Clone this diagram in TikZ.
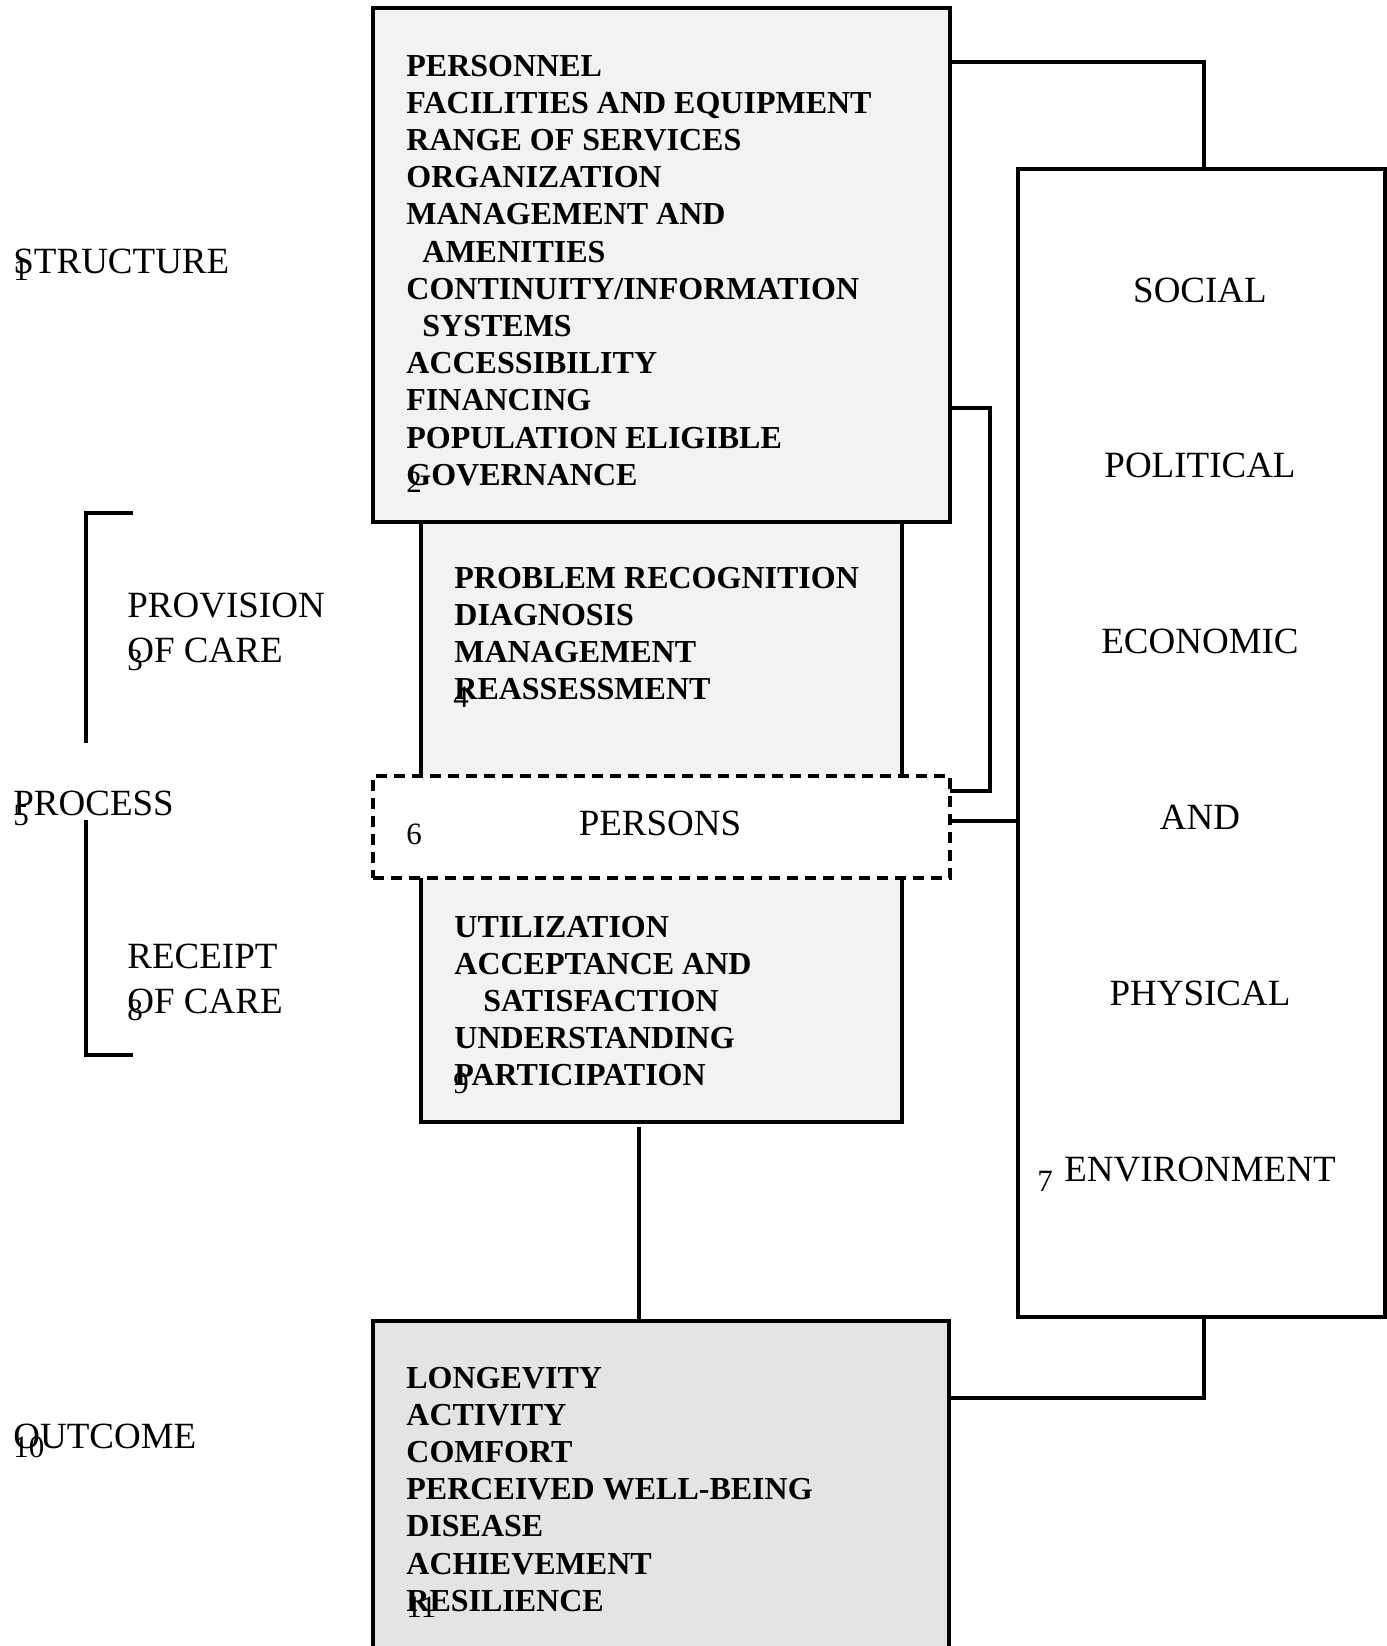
\documentclass[tikz,border=0pt]{standalone}
\usepackage{fontspec}
\setmainfont{Liberation Serif}
\begin{document}
\begin{tikzpicture}[x=0.5pt,y=-0.5pt,
  box/.style={draw=black, line width=1.6pt, inner sep=0pt, outer sep=0pt, anchor=north west},
  conn/.style={draw=black, line width=1.6pt},
  lab/.style={font=\fontsize{18.5}{22.5}\selectfont, inner sep=0pt, anchor=base west},
  num/.style={font=\fontsize{15.5}{17}\selectfont, inner sep=0pt, anchor=base west},
  lst/.style={font=\fontsize{16}{18.6}\selectfont\bfseries, inner sep=0pt, anchor=base west},
]
\useasboundingbox (0,0) rectangle (1387,1646);
\clip (0,0) rectangle (1387,1646);
\definecolor{lightgrey}{HTML}{F2F2F2}
\definecolor{midgrey}{HTML}{E4E4E4}

% boxes
\node[box, fill=lightgrey, minimum width=240.5pt, minimum height=300.5pt] (proc) at (421,521) {};
\node[box, fill=lightgrey, minimum width=288.5pt, minimum height=257pt] (struct) at (373,8) {};
\node[box, fill=white, dashed, dash pattern=on 5.5pt off 3.5pt, minimum width=288.5pt, minimum height=51pt] (pers) at (373,776) {};
\node[box, minimum width=183.5pt, minimum height=574pt] (env) at (1018,169) {};
\node[box, fill=midgrey, minimum width=288pt, minimum height=185pt] (out) at (373,1321) {};

% connectors
\coordinate (c1) at (1204,62);
\draw[conn] (c1 -| struct.east) -- (c1) -- (c1 |- env.north);
\coordinate (c2a) at (990,408);
\coordinate (c2b) at (990,791);
\draw[conn] (c2a -| struct.east) -- (c2a) -- (c2b) -- (c2b -| pers.east);
\coordinate (c3) at (0,821);
\draw[conn] (c3 -| pers.east) -- (c3 -| env.west);
\coordinate (c4) at (639,0);
\draw[conn, shorten <=2.5pt] (c4 |- proc.south) -- (c4 |- out.north);
\coordinate (c5) at (1204,1398);
\draw[conn] (c5 -| out.east) -- (c5) -- (c5 |- env.south);

% brackets
\coordinate (b1) at (133,513);
\coordinate (b2) at (86,743);
\coordinate (b3) at (86,820);
\coordinate (b4) at (133,1055);
\draw[conn] (b1) -- (b1 -| b2) -- (b2);
\draw[conn] (b3) -- (b3 |- b4) -- (b4);

% left labels
\node[lab] (lstruct) at (13,273) {STRUCTURE};
\node[num] (n1) at (13,280) {1};
\node[lab, align=left] (lprov) at (127,617) {\begin{tabular}[t]{@{}l@{}}PROVISION\\OF CARE\end{tabular}};
\node[num] (n3) at (127,670) {3};
\node[lab] (lproc) at (13,815) {PROCESS};
\node[num] (n5) at (13,825) {5};
\node[lab] (lrec) at (127,968) {\begin{tabular}[t]{@{}l@{}}RECEIPT\\OF CARE\end{tabular}};
\node[num] (n8) at (127,1020) {8};
\node[lab] (lout) at (13,1448) {OUTCOME};
\node[num] (n10) at (13,1457) {10};

% lists
\node[lst] (slist) at (406,76) {\begin{tabular}[t]{@{}l@{}}PERSONNEL\\FACILITIES AND EQUIPMENT\\RANGE OF SERVICES\\ORGANIZATION\\MANAGEMENT AND\\\hspace*{8pt}AMENITIES\\CONTINUITY/INFORMATION\\\hspace*{8pt}SYSTEMS\\ACCESSIBILITY\\FINANCING\\POPULATION ELIGIBLE\\GOVERNANCE\end{tabular}};
\node[num] (n2) at (406,492) {2};
\node[lst] (plist) at (454,588) {\begin{tabular}[t]{@{}l@{}}PROBLEM RECOGNITION\\DIAGNOSIS\\MANAGEMENT\\REASSESSMENT\end{tabular}};
\node[num] (n4) at (453,707) {4};
\node[lst] (rlist) at (454,937) {\begin{tabular}[t]{@{}l@{}}UTILIZATION\\ACCEPTANCE AND\\\hspace*{14.5pt}SATISFACTION\\UNDERSTANDING\\PARTICIPATION\end{tabular}};
\node[num] (n9) at (453,1093) {9};
\node[lst] (olist) at (406,1388) {\begin{tabular}[t]{@{}l@{}}LONGEVITY\\ACTIVITY\\COMFORT\\PERCEIVED WELL-BEING\\DISEASE\\ACHIEVEMENT\\RESILIENCE\end{tabular}};
\node[num] (n11) at (406,1617) {11};

% persons
\node[lab, anchor=base] (tpers) at (660,835) {PERSONS};
\node[num] (n6) at (406,844) {6};

% environment
\node[lab, anchor=base] (e1) at (1200,302) {SOCIAL};
\node[lab, anchor=base] (e2) at (1200,477) {POLITICAL};
\node[lab, anchor=base] (e3) at (1200,653) {ECONOMIC};
\node[lab, anchor=base] (e4) at (1200,829) {AND};
\node[lab, anchor=base] (e5) at (1200,1005) {PHYSICAL};
\node[lab, anchor=base] (e6) at (1200,1181) {ENVIRONMENT};
\node[num] (n7) at (1037,1191) {7};
\end{tikzpicture}
\end{document}
